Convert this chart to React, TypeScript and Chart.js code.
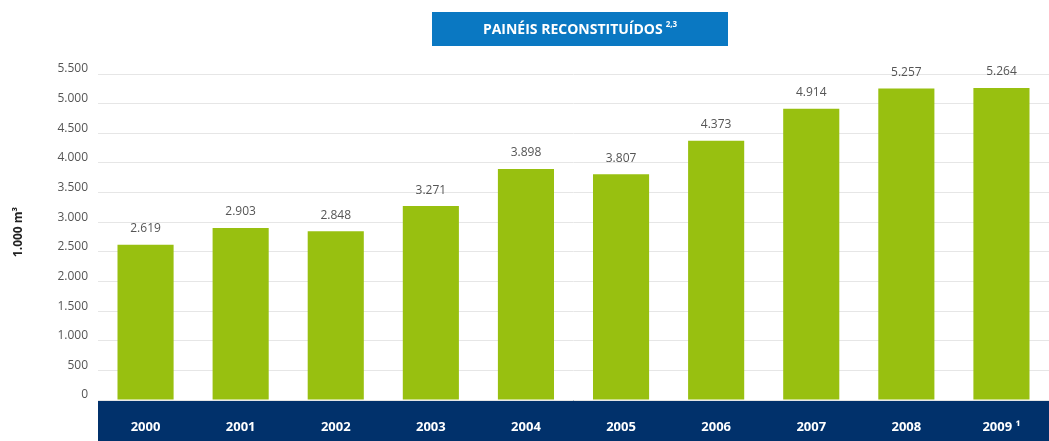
import React, { useEffect, useRef } from "react";
import { Chart, registerables } from "chart.js";

Chart.register(...registerables);

const categories = ["2000", "2001", "2002", "2003", "2004", "2005", "2006", "2007", "2008", "2009 ¹"];
const values = [2619, 2903, 2848, 3271, 3898, 3807, 4373, 4914, 5257, 5264];
const yTicks = [0, 500, 1000, 1500, 2000, 2500, 3000, 3500, 4000, 4500, 5000, 5500];
const titleText = "PAINÉIS RECONSTITUÍDOS";
const titleSup = "2,3";
const yAxisLabel = "1.000 m³";

const FONT = "'Open Sans', 'Noto Sans', sans-serif";
const fmt = (v: number) => v.toString().replace(/\B(?=(\d{3})+(?!\d))/g, ".");

const decorPlugin = {
  id: "decor",
  beforeDraw(chart: any) {
    const { ctx, chartArea, width, height } = chart;
    ctx.save();
    ctx.fillStyle = "#01316b";
    ctx.fillRect(chartArea.left, chartArea.bottom, width - chartArea.left, height - chartArea.bottom);
    ctx.restore();
  },
  afterDraw(chart: any) {
    const { ctx } = chart;
    ctx.save();
    // title box
    ctx.fillStyle = "#0a78c2";
    ctx.fillRect(432, 12, 296, 34);
    ctx.fillStyle = "#ffffff";
    ctx.font = `bold 14px ${FONT}`;
    ctx.textBaseline = "middle";
    const w1 = ctx.measureText(titleText).width;
    ctx.font = `bold 8px ${FONT}`;
    const w2 = ctx.measureText(titleSup).width;
    const start = 580 - (w1 + 3 + w2) / 2;
    ctx.font = `bold 14px ${FONT}`;
    ctx.textAlign = "left";
    ctx.fillText(titleText, start, 30);
    ctx.font = `bold 8px ${FONT}`;
    ctx.fillText(titleSup, start + w1 + 3, 25);
    // y axis label
    ctx.translate(19, 232);
    ctx.rotate(-Math.PI / 2);
    ctx.fillStyle = "#222222";
    ctx.font = `bold 12px ${FONT}`;
    ctx.textAlign = "center";
    ctx.fillText(yAxisLabel, 0, 0);
    ctx.restore();
    // data labels
    const meta = chart.getDatasetMeta(0);
    ctx.save();
    ctx.fillStyle = "#555555";
    ctx.font = `12px ${FONT}`;
    ctx.textAlign = "center";
    ctx.textBaseline = "middle";
    meta.data.forEach((bar: any, i: number) => {
      ctx.fillText(fmt(values[i]), bar.x, bar.y - 16);
    });
    ctx.restore();
  },
};

export default function App() {
  const ref = useRef<HTMLCanvasElement>(null);
  useEffect(() => {
    document.body.style.margin = "0";
    const chart = new Chart(ref.current!, {
      type: "bar",
      data: {
        labels: categories,
        datasets: [
          {
            data: values,
            backgroundColor: "#98c010",
            categoryPercentage: 1,
            barPercentage: 0.59,
          },
        ],
      },
      options: {
        animation: false,
        responsive: false,
        maintainAspectRatio: false,
        layout: { padding: { top: 74, left: 0, right: 0, bottom: 0 } },
        plugins: { legend: { display: false }, tooltip: { enabled: false } },
        scales: {
          x: {
            grid: { display: false, drawTicks: false },
            border: { display: false },
            ticks: { color: "#ffffff", font: { family: FONT, size: 13, weight: "bold" }, padding: 19, maxRotation: 0 },
            afterFit: (s: any) => { s.height = 41; },
          },
          y: {
            min: 0,
            max: 5500,
            afterBuildTicks: (s: any) => { s.ticks = yTicks.map((v) => ({ value: v })); },
            grid: { color: "#e6e6e6", drawTicks: false, lineWidth: 1 },
            border: { display: false },
            ticks: { color: "#555555", font: { family: FONT, size: 12 }, padding: 10, labelOffset: -5, callback: (v: any) => fmt(Number(v)) },
            afterFit: (s: any) => { s.width = 98; },
          },
        },
      },
      plugins: [decorPlugin],
    });
    return () => chart.destroy();
  }, []);
  return <canvas ref={ref} width={1049} height={441} style={{ display: "block" }} />;
}
